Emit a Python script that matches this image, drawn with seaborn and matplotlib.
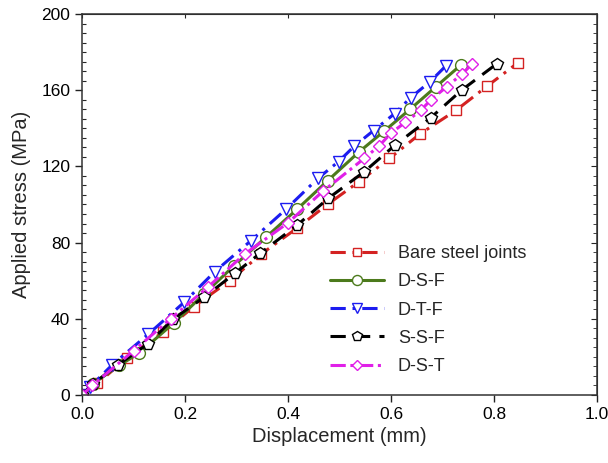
import numpy as np
import pandas as pd
import matplotlib
matplotlib.use('Agg')
import matplotlib.pyplot as plt
from matplotlib.ticker import MultipleLocator, FormatStrFormatter
import seaborn as sns

# values
bare_x = [0, 0.030, 0.087, 0.158, 0.217, 0.287, 0.347, 0.417, 0.478, 0.538, 0.597, 0.656, 0.726, 0.786, 0.846]
bare_y = [0, 6.1, 19.3, 33.2, 46.4, 60.0, 73.8, 87.5, 100.3, 112.0, 124.2, 137.0, 149.4, 162.0, 174.3]

dsf_x = [0, 0.022, 0.072, 0.111, 0.179, 0.237, 0.295, 0.357, 0.418, 0.477, 0.537, 0.587, 0.637, 0.687, 0.736]
dsf_y = [0, 6.0, 15.5, 22.0, 38.0, 53.0, 67.8, 82.8, 97.6, 112.5, 127.4, 138.6, 150.0, 161.8, 173.3]

dtf_x = [0, 0.016, 0.059, 0.129, 0.198, 0.258, 0.328, 0.396, 0.458, 0.498, 0.529, 0.566, 0.607, 0.638, 0.676, 0.707]
dtf_y = [0, 4.4, 15.9, 32.0, 48.6, 64.8, 81.0, 97.5, 113.7, 122.5, 130.7, 138.8, 147.7, 156.1, 164.5, 172.9]

ssf_x = [0, 0.021, 0.069, 0.128, 0.176, 0.237, 0.297, 0.346, 0.418, 0.478, 0.548, 0.608, 0.677, 0.737, 0.806]
ssf_y = [0, 5.8, 15.7, 26.8, 39.7, 51.3, 63.9, 74.4, 89.2, 103.2, 117.2, 131.2, 145.5, 160.0, 174.0]

dst_x = [0, 0.020, 0.100, 0.172, 0.245, 0.316, 0.400, 0.468, 0.548, 0.577, 0.600, 0.628, 0.658, 0.678, 0.708, 0.737, 0.757]
dst_y = [0, 5.0, 23.2, 40.0, 56.8, 74.0, 90.4, 107.0, 124.2, 130.8, 137.5, 143.2, 149.5, 155.1, 161.8, 168.3, 173.6]

series = ['Bare steel joints', 'D-S-F', 'D-T-F', 'S-S-F', 'D-S-T']
xs = [bare_x, dsf_x, dtf_x, ssf_x, dst_x]
ys = [bare_y, dsf_y, dtf_y, ssf_y, dst_y]

colors = ['#d42222', '#4c7a1c', '#1c1cf0', '#000000', '#e020e8']
markers = ['s', 'o', 'v', 'p', 'D']
msizes = [7.5, 8.5, 8.5, 8.5, 6.5]
styles = [(0, (5, 2.2, 1, 2.2)), '-', (0, (5, 2.2, 1, 2.2)), (0, (5, 3)), (0, (5, 1.5, 1, 1.5))]

sns.set_style('ticks')
plt.rcParams['font.family'] = ['Liberation Sans', 'DejaVu Sans']

fig = plt.figure(figsize=(6.08, 4.63), dpi=100)
ax = fig.add_axes([0.1349, 0.1469, 0.8471, 0.8229])

for name, x, y, c, m, ms, ls in zip(series, xs, ys, colors, markers, msizes, styles):
    df = pd.DataFrame({'x': x, 'y': y})
    sns.lineplot(data=df, x='x', y='y', ax=ax, color=c, marker=m, markersize=ms,
                 markerfacecolor='white', markeredgecolor=c, markeredgewidth=1,
                 linestyle=ls, linewidth=2.2, label=name, sort=False)

ax.set_xlim(0, 1.0)
ax.set_ylim(0, 200)
ax.xaxis.set_major_locator(MultipleLocator(0.2))
ax.xaxis.set_major_formatter(FormatStrFormatter('%.1f'))
ax.yaxis.set_major_locator(MultipleLocator(40))
ax.yaxis.set_minor_locator(MultipleLocator(5))

ax.tick_params(which='major', direction='out', length=5, width=1, labelsize=12.5, colors='#222222')
ax.tick_params(which='minor', direction='in', length=3, width=0.8)
ax.tick_params(axis='both', labelcolor='black')

for s in ax.spines.values():
    s.set_visible(True)
    s.set_linewidth(1.1)
    s.set_color('#333333')

top = ax.secondary_xaxis('top')
top.xaxis.set_major_locator(MultipleLocator(0.2))
top.tick_params(direction='in', length=3, labeltop=False)
right = ax.secondary_yaxis('right')
right.yaxis.set_major_locator(MultipleLocator(40))
right.yaxis.set_minor_locator(MultipleLocator(5))
right.tick_params(which='both', direction='in', labelright=False)
right.tick_params(which='major', length=4)
right.tick_params(which='minor', length=3)

ax.set_xlabel('Displacement (mm)', fontsize=14.5, labelpad=4)
ax.set_ylabel('Applied stress (MPa)', fontsize=14.5, labelpad=7)

ax.legend(frameon=False, loc='lower left', bbox_to_anchor=(0.45, 0.01), fontsize=13,
          handlelength=3.0, labelspacing=0.62, handletextpad=0.75, markerscale=0.85)

fig.savefig('out.png', dpi=100)
